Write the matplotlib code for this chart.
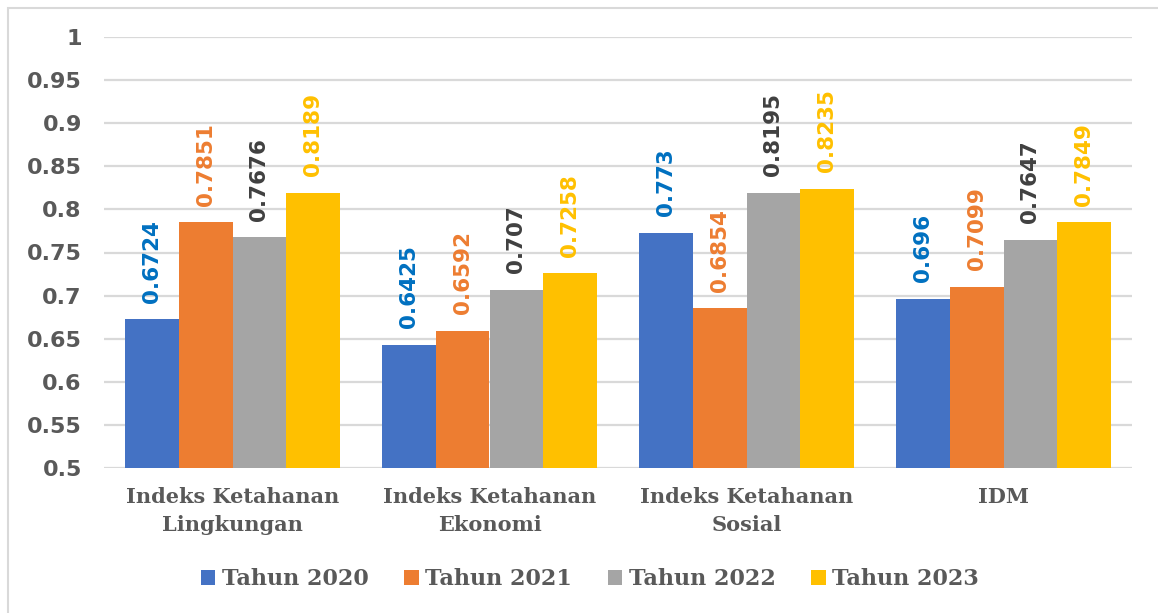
import numpy as np
import matplotlib
matplotlib.use('Agg')
import matplotlib.pyplot as plt
from matplotlib.patches import Rectangle

###############################################################################
# Data
###############################################################################
categories = ['Indeks Ketahanan\nLingkungan', 'Indeks Ketahanan\nEkonomi',
              'Indeks Ketahanan\nSosial', 'IDM']
series = ['Tahun 2020', 'Tahun 2021', 'Tahun 2022', 'Tahun 2023']
v2020 = [0.6724, 0.6425, 0.773, 0.696]
v2021 = [0.7851, 0.6592, 0.6854, 0.7099]
v2022 = [0.7676, 0.707, 0.8195, 0.7647]
v2023 = [0.8189, 0.7258, 0.8235, 0.7849]
labels2020 = ['0.6724', '0.6425', '0.773', '0.696']
labels2021 = ['0.7851', '0.6592', '0.6854', '0.7099']
labels2022 = ['0.7676', '0.707', '0.8195', '0.7647']
labels2023 = ['0.8189', '0.7258', '0.8235', '0.7849']
yticks = [0.5, 0.55, 0.6, 0.65, 0.7, 0.75, 0.8, 0.85, 0.9, 0.95, 1]
ytick_labels = ['0.5', '0.55', '0.6', '0.65', '0.7', '0.75', '0.8', '0.85',
                '0.9', '0.95', '1']

###############################################################################
# Style
###############################################################################
barColors = ['#4472C4', '#ED7D31', '#A5A5A5', '#FFC000']
lblColors = ['#0070C0', '#ED7D31', '#404040', '#FFC000']
txtColor = '#595959'
gridColor = '#d9d9d9'
W, H = 1158, 613

###############################################################################
# Plot
###############################################################################
fig = plt.figure(figsize=(W / 100, H / 100), dpi=100)
ax = fig.add_axes([104 / W, 1 - 468 / H, (1132 - 104) / W, (468 - 37) / H])

x = np.arange(len(categories))
bw = 0.21
allVals = [v2020, v2021, v2022, v2023]
allLbls = [labels2020, labels2021, labels2022, labels2023]
for i, (vals, lbls) in enumerate(zip(allVals, allLbls)):
    pos = x + (i - 1.5) * bw
    ax.bar(pos, np.array(vals) - 0.5, bw, bottom=0.5, color=barColors[i],
           label=series[i], zorder=3)
    for p, v, l in zip(pos, vals, lbls):
        ax.annotate(l, (p, v), xytext=(0, 12), textcoords='offset points',
                    rotation=90, ha='center', va='bottom', fontsize=15.5,
                    fontweight='bold', color=lblColors[i],
                    family='DejaVu Sans')

ax.set_xlim(-0.5, 3.5)
ax.set_ylim(0.5, 1.0)
ax.set_yticks(yticks)
ax.set_yticklabels(ytick_labels, fontsize=16, fontweight='bold',
                   color=txtColor, family='DejaVu Sans')
ax.set_xticks(x)
ax.set_xticklabels(categories, fontsize=15, fontweight='bold',
                   color=txtColor, family='DejaVu Serif', linespacing=1.45)
ax.tick_params(axis='both', length=0)
ax.tick_params(axis='y', pad=16)
ax.tick_params(axis='x', pad=14)
ax.grid(axis='y', color=gridColor, lw=1.6, zorder=0)
for s in ax.spines.values():
    s.set_visible(False)

leg = fig.legend(loc='center', bbox_to_anchor=(590 / W, 1 - 579 / H),
                 ncol=4, frameon=False, handlelength=0.65, handleheight=0.65,
                 handletextpad=0.3, columnspacing=1.6,
                 prop={'family': 'DejaVu Serif', 'weight': 'bold', 'size': 16})
for t in leg.get_texts():
    t.set_color(txtColor)

fig.patches.append(Rectangle((8 / W, -0.1), 1.2, 1.1 - 8 / H,
                             transform=fig.transFigure, fill=False,
                             ec=gridColor, lw=1.5))

###############################################################################
# Export
###############################################################################
fig.savefig('out.png', dpi=100, facecolor='white')
plt.close('all')
